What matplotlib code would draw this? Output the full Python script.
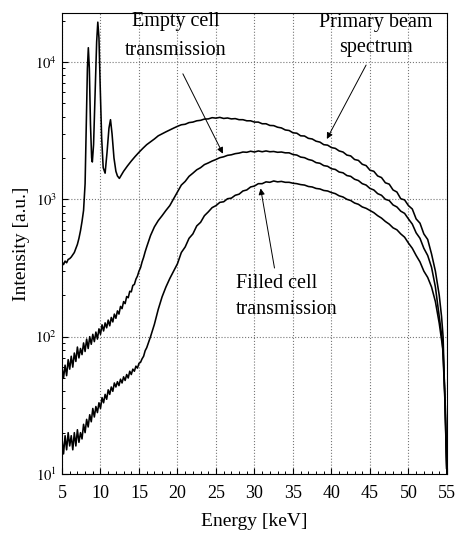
import matplotlib
matplotlib.use("Agg")
import matplotlib.pyplot as plt
from matplotlib.ticker import MultipleLocator, LogLocator, NullFormatter, FixedLocator

plt.rcParams['font.family'] = ['Liberation Serif', 'DejaVu Serif']
plt.rcParams['mathtext.fontset'] = 'stix'

# ---------------- data ----------------
primary_E = [5.0, 5.2, 5.4, 5.6, 5.8, 6.0, 6.2, 6.4, 6.6, 6.8, 7.0, 7.2, 7.4, 7.6, 7.8,
             8.0, 8.2, 8.3, 8.42, 8.55, 8.7, 8.85, 8.94, 9.1, 9.3, 9.5, 9.65, 9.8, 9.95,
             10.15, 10.35, 10.6, 10.85, 11.1, 11.3, 11.5, 11.75, 12.0, 12.2, 12.45, 12.7,
             13.0, 13.5, 14.0, 14.5, 15.0, 15.5, 16.0, 16.5, 17.0, 17.5, 18.0, 18.5, 19.0,
             19.5, 20.0, 20.5, 21.0, 21.5, 22.0, 22.5, 23.0, 23.5, 24.0, 24.5, 25.0, 25.5,
             26.0, 26.5, 27.0, 27.5, 28.0, 28.5, 29.0, 29.5, 30.0, 30.5, 31.0, 31.5, 32.0,
             32.5, 33.0, 33.5, 34.0, 34.5, 35.0, 35.5, 36.0, 36.5, 37.0, 37.5, 38.0, 38.5,
             39.0, 39.5, 40.0, 40.5, 41.0, 41.5, 42.0, 42.5, 43.0, 43.5, 44.0, 44.5, 45.0,
             45.5, 46.0, 46.5, 47.0, 47.5, 48.0, 48.5, 49.0, 49.5, 50.0, 50.5, 51.0, 51.5,
             52.0, 52.5, 53.0, 53.5, 54.0, 54.3, 54.5, 54.7, 54.85, 54.95]
primary_I = [350, 335, 355, 345, 365, 370, 380, 395, 410, 440, 470, 520, 590, 690, 830,
             1300, 4500, 9000, 12700, 9000, 3500, 2000, 1870, 2500, 6000, 14000, 19500, 15000, 7000,
             2800, 1700, 1550, 2200, 3300, 3800, 3000, 2000, 1600, 1480, 1420, 1500,
             1600, 1750, 1900, 2050, 2200, 2350, 2500, 2620, 2750, 2900, 3000, 3100, 3200,
             3300, 3400, 3490, 3520, 3620, 3650, 3730, 3760, 3840, 3850, 3930, 3900, 3950,
             3880, 3910, 3850, 3870, 3800, 3800, 3730, 3730, 3650, 3650, 3550, 3550, 3450,
             3440, 3350, 3310, 3200, 3170, 3050, 3030, 2900, 2890, 2780, 2750, 2650, 2610,
             2500, 2480, 2380, 2350, 2250, 2210, 2100, 2070, 1950, 1920, 1800, 1760, 1630,
             1600, 1480, 1440, 1320, 1290, 1170, 1130, 1010, 990, 900, 850, 720, 670,
             560, 510, 400, 300, 200, 140, 100, 40, 20, 11]

empty_E = [5.0, 5.2, 5.4, 5.6, 5.8, 6.0, 6.2, 6.4, 6.6, 6.8, 7.0, 7.2, 7.4, 7.6, 7.8,
           8.0, 8.2, 8.4, 8.6, 8.8, 9.0, 9.2, 9.4, 9.6, 9.8, 10.0, 10.2, 10.4, 10.6, 10.8,
           11.0, 11.2, 11.4, 11.6, 11.8, 12.0, 12.2, 12.4, 12.6, 12.8, 13.0, 13.2, 13.4,
           13.6, 13.8, 14.0, 14.2, 14.4, 14.6, 14.8, 15.0, 15.2, 15.4, 15.6, 15.8, 16.0,
           16.5, 17.0, 17.5, 18.0, 18.5, 19.0, 19.5, 20.0, 20.5, 21.0, 21.5, 22.0, 22.5,
           23.0, 23.5, 24.0, 24.5, 25.0, 25.5, 26.0, 26.5, 27.0, 27.5, 28.0, 28.5, 29.0,
           29.5, 30.0, 30.5, 31.0, 31.5, 32.0, 32.5, 33.0, 33.5, 34.0, 34.5, 35.0, 35.5,
           36.0, 36.5, 37.0, 37.5, 38.0, 38.5, 39.0, 39.5, 40.0, 40.5, 41.0, 41.5, 42.0,
           42.5, 43.0, 43.5, 44.0, 44.5, 45.0, 45.5, 46.0, 46.5, 47.0, 47.5, 48.0, 48.5,
           49.0, 49.5, 50.0, 50.5, 51.0, 51.5, 52.0, 52.5, 53.0, 53.5, 54.0, 54.4, 54.7,
           54.9, 55.0]
empty_I = [60, 50, 62, 52, 68, 58, 72, 60, 76, 66, 84, 70, 82, 74, 90,
           78, 96, 82, 100, 88, 104, 92, 108, 96, 114, 104, 122, 110, 126, 116,
           132, 120, 138, 128, 146, 136, 154, 146, 166, 160, 180, 174, 196,
           192, 214, 212, 236, 240, 262, 276, 300, 318, 350, 378, 415, 450,
           545, 630, 700, 760, 830, 900, 1010, 1130, 1270, 1350, 1470, 1550, 1640,
           1700, 1790, 1840, 1900, 1950, 2010, 2040, 2090, 2110, 2150, 2170, 2210, 2200,
           2240, 2210, 2250, 2220, 2250, 2220, 2230, 2200, 2210, 2180, 2180, 2120, 2100,
           2030, 2010, 1950, 1920, 1850, 1830, 1760, 1740, 1670, 1650, 1580, 1560, 1490,
           1470, 1400, 1370, 1300, 1270, 1200, 1170, 1100, 1070, 1000, 980, 910, 880,
           820, 790, 720, 660, 570, 520, 440, 390, 320, 230, 140, 94, 40,
           15, 10]

filled_E = [5.0, 5.2, 5.4, 5.6, 5.8, 6.0, 6.2, 6.4, 6.6, 6.8, 7.0, 7.2, 7.4, 7.6, 7.8,
            8.0, 8.2, 8.4, 8.6, 8.8, 9.0, 9.2, 9.4, 9.6, 9.8, 10.0, 10.2, 10.4, 10.6, 10.8,
            11.0, 11.2, 11.4, 11.6, 11.8, 12.0, 12.2, 12.4, 12.6, 12.8, 13.0, 13.2, 13.4,
            13.6, 13.8, 14.0, 14.2, 14.4, 14.6, 14.8, 15.0, 15.2, 15.4, 15.6, 15.8, 16.0,
            16.5, 17.0, 17.5, 18.0, 18.5, 19.0, 19.5, 20.0, 20.5, 21.0, 21.5, 22.0, 22.5,
            23.0, 23.5, 24.0, 24.5, 25.0, 25.5, 26.0, 26.5, 27.0, 27.5, 28.0, 28.5, 29.0,
            29.5, 30.0, 30.5, 31.0, 31.5, 32.0, 32.5, 33.0, 33.5, 34.0, 34.5, 35.0, 35.5,
            36.0, 36.5, 37.0, 37.5, 38.0, 38.5, 39.0, 39.5, 40.0, 40.5, 41.0, 41.5, 42.0,
            42.5, 43.0, 43.5, 44.0, 44.5, 45.0, 45.5, 46.0, 46.5, 47.0, 47.5, 48.0, 48.5,
            49.0, 49.5, 50.0, 50.5, 51.0, 51.5, 52.0, 52.5, 53.0, 53.5, 54.0, 54.5, 54.8,
            55.0]
filled_I = [18, 14, 19, 15, 20, 16, 19, 15, 20, 16, 21, 17, 20, 18, 23,
            20, 25, 22, 27, 24, 30, 26, 31, 28, 33, 30, 36, 33, 38, 35,
            41, 38, 43, 40, 46, 43, 47, 44, 49, 46, 51, 48, 53,
            50, 56, 53, 58, 56, 61, 59, 64, 65, 69, 72, 79, 83,
            100, 123, 158, 195, 230, 265, 300, 340, 410, 450, 520, 560, 640,
            680, 760, 810, 870, 900, 950, 960, 1010, 1020, 1070, 1090, 1150, 1170,
            1230, 1250, 1300, 1300, 1340, 1330, 1360, 1340, 1350, 1330, 1330, 1310, 1300,
            1280, 1270, 1240, 1230, 1200, 1190, 1160, 1150, 1120, 1100, 1060, 1040, 1000,
            980, 940, 920, 880, 860, 830, 800, 760, 730, 690, 660, 620, 600,
            560, 530, 480, 440, 390, 350, 300, 270, 230, 180, 125, 79, 30,
            10]

x_ticks = [5, 10, 15, 20, 25, 30, 35, 40, 45, 50, 55]
y_ticks = [10, 100, 1000, 10000]
y_tick_labels = [r'$10^{1}$', r'$10^{2}$', r'$10^{3}$', r'$10^{4}$']

# ---------------- figure ----------------
fig = plt.figure(figsize=(4.61, 5.33), dpi=100)
ax = fig.add_axes([0.1345, 0.1107, 0.835, 0.865])

for E, I in [(primary_E, primary_I), (empty_E, empty_I), (filled_E, filled_I)]:
    ax.plot(E, I, color='black', lw=1.15)

ax.set_yscale('log')
ax.set_xlim(5, 55)
ax.set_ylim(10, 22750)

ax.set_xticks(x_ticks)
ax.set_xticklabels([str(t) for t in x_ticks], fontsize=13)
ax.xaxis.set_minor_locator(MultipleLocator(1))
ax.yaxis.set_major_locator(FixedLocator(y_ticks))
ax.set_yticklabels(y_tick_labels, fontsize=10.5)
ax.yaxis.set_minor_locator(LogLocator(base=10, subs=range(2, 10)))
ax.yaxis.set_minor_formatter(NullFormatter())

ax.tick_params(which='both', direction='in', top=False, right=False)
ax.tick_params(which='major', length=4, width=0.8)
ax.tick_params(which='minor', length=2.5, width=0.7)
ax.tick_params(axis='x', pad=8)

ax.grid(True, which='major', linestyle=':', color='#777777', linewidth=0.8)

ax.set_xlabel('Energy [keV]', fontsize=14, labelpad=8)
ax.set_ylabel('Intensity [a.u.]', fontsize=14, labelpad=4)

arrow = dict(arrowstyle='-|>', color='black', lw=0.7, mutation_scale=9, shrinkA=0, shrinkB=0)
tfs = 14.5

ax.text(19.8, 19600, 'Empty cell', fontsize=tfs, ha='center', va='center')
ax.text(19.8, 12200, 'transmission', fontsize=tfs, ha='center', va='center')
ax.annotate('', xy=(25.9, 2150), xytext=(20.7, 8200), arrowprops=arrow)

ax.text(45.8, 19300, 'Primary beam', fontsize=tfs, ha='center', va='center')
ax.text(45.8, 12800, 'spectrum', fontsize=tfs, ha='center', va='center')
ax.annotate('', xy=(39.4, 2750), xytext=(44.5, 9500), arrowprops=arrow)

ax.text(27.6, 245, 'Filled cell', fontsize=tfs, ha='left', va='center')
ax.text(27.6, 158, 'transmission', fontsize=tfs, ha='left', va='center')
ax.annotate('', xy=(30.8, 1200), xytext=(32.6, 316), arrowprops=arrow)

fig.savefig('out.png', dpi=100)
